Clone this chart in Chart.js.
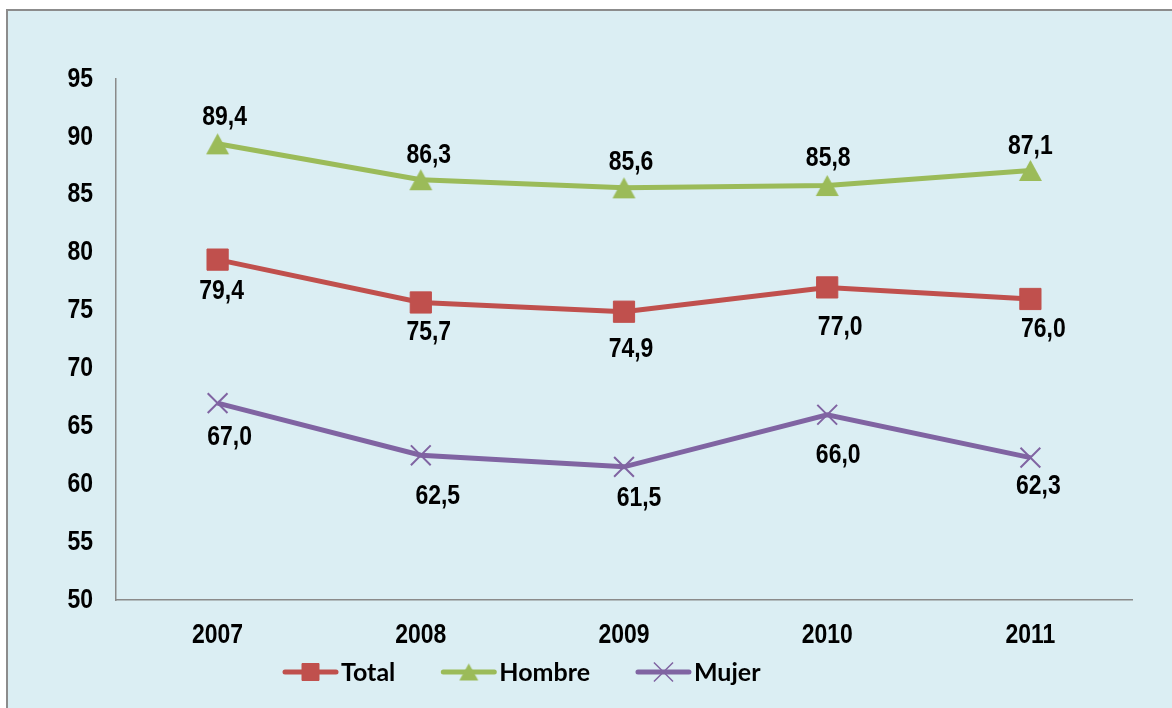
<!DOCTYPE html>
<html><head><meta charset="utf-8">
<script src="https://cdn.jsdelivr.net/npm/chart.js@4.4.1/dist/chart.umd.min.js"></script>
<style>
html,body{margin:0;padding:0;background:#fff;width:1172px;height:708px;overflow:hidden}
#frame{position:absolute;left:6px;top:9px;width:1300px;height:800px;border:2px solid #8c8c8c;background:#DBEEF3;box-sizing:border-box}
#wrap{position:absolute;left:0;top:0;width:1172px;height:708px}
</style></head><body>
<div id="frame"></div>
<div id="wrap"><canvas id="c" width="1172" height="708"></canvas></div>
<script>
// ---- data ----
const years = ['2007', '2008', '2009', '2010', '2011'];
const total = [79.4, 75.7, 74.9, 77.0, 76.0];
const hombre = [89.4, 86.3, 85.6, 85.8, 87.1];
const mujer = [67.0, 62.5, 61.5, 66.0, 62.3];
const seriesNames = ['Total', 'Hombre', 'Mujer'];
const yMin = 50, yMax = 95, yStep = 5;

// ---- styles ----
const RED = '#C0504D', GREEN = '#9BBB59', PURPLE = '#8064A2';
// Arial Narrow look: Liberation Sans Bold drawn with a horizontal squeeze
const NARROW = "'Liberation Sans', Arial, sans-serif";
const SQUEEZE = 0.82;
const TEXT_SIZE = 28;
const LEGEND_FONT = "Lato, 'Open Sans', sans-serif";

const canvas = document.getElementById('c');
const ctx0 = canvas.getContext('2d');
(function patchNarrow(ctx) {
  const origFill = ctx.fillText.bind(ctx);
  const origMeasure = ctx.measureText.bind(ctx);
  const isNarrow = () => ctx.font.indexOf('Liberation Sans') !== -1;
  ctx.fillText = function (text, x, y, maxWidth) {
    if (!isNarrow()) return origFill(text, x, y, maxWidth);
    ctx.save();
    ctx.translate(x, y);
    ctx.scale(SQUEEZE, 1);
    origFill(text, 0, 0);
    ctx.restore();
  };
  ctx.measureText = function (text) {
    const m = origMeasure(text);
    if (!isNarrow()) return m;
    return {
      width: m.width * SQUEEZE,
      actualBoundingBoxLeft: m.actualBoundingBoxLeft * SQUEEZE,
      actualBoundingBoxRight: m.actualBoundingBoxRight * SQUEEZE,
      actualBoundingBoxAscent: m.actualBoundingBoxAscent,
      actualBoundingBoxDescent: m.actualBoundingBoxDescent,
      fontBoundingBoxAscent: m.fontBoundingBoxAscent,
      fontBoundingBoxDescent: m.fontBoundingBoxDescent
    };
  };
})(ctx0);

// label nudges (dx, dy) relative to each point, as placed in the original
const labelNudges = [
  [[4, 32], [8, 30], [7, 38], [13, 40], [13, 30]],
  [[7, -27], [8, -24], [7, -26], [1, -27], [0, -24]],
  [[12, 34], [17, 41], [15, 31], [11, 41], [8, 29]]
];

function triangleImage(w, h, color) {
  const c = document.createElement('canvas');
  c.width = Math.ceil(w) + 2; c.height = Math.ceil(h) + 2;
  const g = c.getContext('2d');
  g.fillStyle = color;
  g.beginPath();
  g.moveTo(c.width / 2, 1);
  g.lineTo(c.width / 2 + w / 2, 1 + h);
  g.lineTo(c.width / 2 - w / 2, 1 + h);
  g.closePath();
  g.fill();
  return c;
}
const triChart = triangleImage(23, 21, GREEN);
const triLegend = triangleImage(19, 17, GREEN);

const fmt = v => v.toFixed(1).replace('.', ',');

const dataLabels = {
  id: 'dataLabels',
  afterDatasetsDraw(chart) {
    const ctx = chart.ctx;
    ctx.save();
    ctx.font = 'bold ' + TEXT_SIZE + 'px ' + NARROW;
    ctx.fillStyle = '#000';
    ctx.textAlign = 'center';
    ctx.textBaseline = 'middle';
    chart.data.datasets.forEach((ds, i) => {
      const meta = chart.getDatasetMeta(i);
      meta.data.forEach((pt, j) => {
        const n = labelNudges[i][j];
        ctx.fillText(fmt(ds.data[j]), pt.x + n[0], pt.y + n[1]);
      });
    });
    ctx.restore();
  }
};

const legendMarkers = [
  { pointStyle: 'rect', radius: 12, borderWidth: 1 },
  { pointStyle: triLegend, radius: 10, borderWidth: 0 },
  { pointStyle: 'crossRot', radius: 13.5, borderWidth: 1.5 }
];

const customLegend = {
  id: 'customLegend',
  afterDraw(chart) {
    const ctx = chart.ctx;
    const y = 672;
    let x = 283;
    ctx.save();
    chart.data.datasets.forEach((ds, i) => {
      ctx.strokeStyle = ds.borderColor;
      ctx.lineWidth = 5;
      ctx.lineCap = 'round';
      ctx.beginPath(); ctx.moveTo(x + 2, y); ctx.lineTo(x + 53, y); ctx.stroke();
      const m = legendMarkers[i];
      ctx.fillStyle = ds.borderColor;
      ctx.strokeStyle = ds.borderColor;
      ctx.lineWidth = m.borderWidth;
      ctx.lineCap = 'butt';
      Chart.helpers.drawPoint(ctx, m, x + 27.5, y);
      ctx.font = 'bold 25px ' + LEGEND_FONT;
      ctx.fillStyle = '#000';
      ctx.textAlign = 'left';
      ctx.textBaseline = 'middle';
      ctx.fillText(ds.label, x + 58, y + 1);
      x += 58 + ctx.measureText(ds.label).width + 46;
    });
    ctx.restore();
  }
};

new Chart(canvas, {
  type: 'line',
  data: {
    labels: years,
    datasets: [
      { label: seriesNames[0], data: total, borderColor: RED, backgroundColor: RED,
        borderWidth: 5, pointStyle: 'rect', pointRadius: 15, pointBackgroundColor: RED,
        pointBorderColor: RED, pointBorderWidth: 1, tension: 0 },
      { label: seriesNames[1], data: hombre, borderColor: GREEN, backgroundColor: GREEN,
        borderWidth: 5, pointStyle: triChart, pointRadius: 12, pointBackgroundColor: GREEN,
        pointBorderColor: GREEN, pointBorderWidth: 0, tension: 0 },
      { label: seriesNames[2], data: mujer, borderColor: PURPLE, backgroundColor: PURPLE,
        borderWidth: 5, pointStyle: 'crossRot', pointRadius: 14, pointBackgroundColor: PURPLE,
        pointBorderColor: PURPLE, pointBorderWidth: 2, tension: 0 }
    ]
  },
  options: {
    responsive: false,
    animation: false,
    events: [],
    layout: { padding: { left: 0, right: 40, top: 79, bottom: 0 } },
    plugins: { legend: { display: false }, tooltip: { enabled: false }, title: { display: false } },
    scales: {
      x: {
        offset: true,
        grid: { display: false, drawTicks: false },
        border: { display: true, color: '#8a8a8a', width: 1.5 },
        ticks: { color: '#000', font: { family: NARROW, size: TEXT_SIZE, weight: 'bold' }, padding: 18, maxRotation: 0 },
        afterFit(scale) { scale.height = 108; }
      },
      y: {
        min: yMin, max: yMax,
        grid: { display: false, drawTicks: false },
        border: { display: true, color: '#8a8a8a', width: 1.5 },
        ticks: { stepSize: yStep, color: '#000', font: { family: NARROW, size: TEXT_SIZE, weight: 'bold' }, padding: 23 },
        afterFit(scale) { scale.width = 116; }
      }
    }
  },
  plugins: [dataLabels, customLegend]
});
</script>
</body></html>
